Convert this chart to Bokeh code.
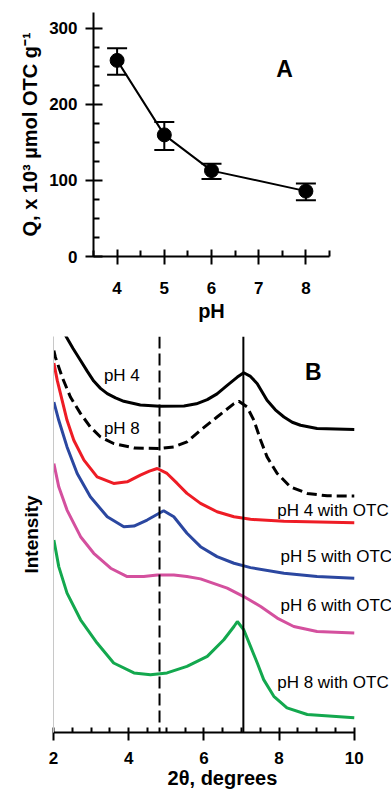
from bokeh.plotting import figure
from bokeh.models import (ColumnDataSource, Whisker, TeeHead, FixedTicker, Label,
                          Span, Range1d)
from bokeh.embed import file_html
from bokeh.resources import INLINE
from bokeh.core.properties import value

FONT = "Liberation Sans"

# ---------------- Panel A data ----------------
ph = [4, 5, 6, 8]
q = [258, 160, 113, 86]
q_upper = [274, 177, 122, 96]
q_lower = [239, 140, 102, 74]
ph_ticks = [4, 5, 6, 7, 8]
ph_minor = [3.5, 4.5, 5.5, 6.5, 7.5, 8.5]
q_ticks = [0, 100, 200, 300]
q_minor = [25, 50, 75, 125, 150, 175, 225, 250, 275]

# ---------------- Panel B data ----------------
tt_ticks = [2, 4, 6, 8, 10]
tt_minor = [2.5, 3, 3.5, 4.5, 5, 5.5, 6.5, 7, 7.5, 8.5, 9, 9.5]
ref_dashed = 4.82
ref_solid = 7.05

tt_ph4 = [2.32, 2.52, 2.72, 2.90, 3.07, 3.25, 3.43, 3.65, 3.87, 4.31, 4.83, 5.47, 5.80, 6.09, 6.35, 6.62, 6.89, 7.06, 7.24, 7.42, 7.68, 7.90, 8.13, 8.35, 8.57, 9.01, 10.0]
in_ph4 = [398, 385, 373, 362, 352.3, 345, 339.7, 335.5, 332, 328.3, 327, 327.3, 329.5, 333.7, 339.5, 348, 356.3, 360.7, 357, 349.7, 333, 323.5, 316.3, 311, 308, 304.7, 303.7]

tt_ph8 = [2.01, 2.05, 2.23, 2.45, 2.72, 2.98, 3.25, 3.60, 4.14, 4.83, 5.20, 5.55, 5.91, 6.35, 6.80, 6.93, 7.15, 7.33, 7.51, 7.68, 7.95, 8.30, 8.75, 9.28, 10.0]
in_ph8 = [383, 376.3, 356.3, 336.3, 319.7, 306.3, 296.3, 289.7, 285.3, 284.7, 286.3, 291.3, 303, 316.3, 329.7, 332, 326.3, 313, 293, 276.3, 259.7, 246.3, 239.7, 237.3, 237]

tt_ph4_otc = [2.01, 2.10, 2.23, 2.36, 2.54, 2.81, 3.16, 3.60, 3.96, 4.31, 4.55, 4.76, 5.02, 5.29, 5.55, 5.91, 6.35, 6.80, 7.24, 8.13, 10.0]
in_ph4_otc = [370.3, 353, 333, 313, 293, 273, 256.3, 249.7, 251.3, 258, 262, 264.7, 259.7, 249.7, 239.7, 229.7, 221.3, 216.3, 213.7, 211.7, 210.3]

tt_ph5_otc = [2.01, 2.14, 2.36, 2.63, 2.98, 3.43, 3.87, 4.14, 4.49, 4.93, 5.20, 5.55, 5.91, 6.35, 6.80, 7.24, 8.13, 9.01, 10.0]
in_ph5_otc = [331.3, 313, 286.3, 259.7, 236.3, 216.3, 206.3, 207, 213, 222.3, 216.3, 199.7, 186.3, 176.3, 169.7, 165.3, 159.7, 156.3, 154.7]

tt_ph6_otc = [2.01, 2.14, 2.36, 2.72, 3.07, 3.52, 3.96, 4.40, 4.76, 5.20, 5.55, 5.91, 6.62, 7.06, 7.51, 7.95, 8.39, 9.01, 10.0]
in_ph6_otc = [269.7, 246.3, 223, 196.3, 179.7, 164.7, 156.3, 156.3, 158, 158, 156.3, 154, 144.7, 136.3, 126.3, 114.7, 106.3, 101.3, 99.7]

tt_ph8_otc = [2.01, 2.14, 2.36, 2.72, 3.16, 3.60, 4.14, 4.58, 5.02, 5.55, 6.09, 6.53, 6.80, 6.89, 7.06, 7.24, 7.42, 7.59, 7.86, 8.21, 8.75, 10.0]
in_ph8_otc = [193, 166.3, 139.7, 113, 89.7, 69.7, 59.7, 58, 59.7, 66.3, 76.3, 93, 106.3, 111.3, 103, 86.3, 69.7, 53, 36.3, 24.7, 18, 14.7]

curve_labels = ["pH 4", "pH 8", "pH 4 with OTC", "pH 5 with OTC", "pH 6 with OTC", "pH 8 with OTC"]
curve_label_x = [3.34, 3.34, 7.95, 8.04, 8.04, 7.95]
curve_label_y = [358, 305, 223, 176, 127, 50]

RED = "#ee1c25"
BLUE = "#2b47a0"
MAGENTA = "#d4509e"
GREEN = "#13a84e"


def style_axis(ax, tick_size="17px"):
    ax.axis_line_color = "black"
    ax.axis_line_width = 2
    ax.major_tick_line_color = "black"
    ax.major_tick_line_width = 2
    ax.minor_tick_line_color = "black"
    ax.minor_tick_line_width = 2
    ax.major_label_text_font = FONT
    ax.major_label_text_font_style = "bold"
    ax.major_label_text_font_size = tick_size
    ax.major_label_text_color = "black"
    ax.axis_label_text_font = FONT
    ax.axis_label_text_font_style = "bold"
    ax.axis_label_text_font_size = "20px"
    ax.axis_label_text_color = "black"


# ---------------- Figure A ----------------
pA = figure(width=391, height=328, x_range=Range1d(3.5, 8.5), y_range=Range1d(0, 321),
            output_backend="svg", toolbar_location=None,
            min_border_left=93, min_border_right=62, min_border_top=12, min_border_bottom=72)
pA.outline_line_color = None
pA.grid.visible = False

srcA = ColumnDataSource(dict(ph=ph, q=q, up=q_upper, lo=q_lower))
pA.line("ph", "q", source=srcA, line_width=2, line_color="black")
pA.add_layout(Whisker(base="ph", upper="up", lower="lo", source=srcA, dimension="height",
                      line_width=2, line_color="black",
                      upper_head=TeeHead(size=20, line_width=2, line_color="black"),
                      lower_head=TeeHead(size=20, line_width=2, line_color="black")))
pA.scatter("ph", "q", source=srcA, size=14, fill_color="black", line_color="black")

xa = pA.xaxis[0]
style_axis(xa)
xa.ticker = FixedTicker(ticks=ph_ticks, minor_ticks=ph_minor)
xa.major_tick_in = 7
xa.major_tick_out = 8
xa.minor_tick_in = 6
xa.minor_tick_out = 0
xa.major_label_standoff = 17
xa.axis_label = "pH"
xa.axis_label_standoff = 3

ya = pA.yaxis[0]
style_axis(ya)
ya.ticker = FixedTicker(ticks=q_ticks, minor_ticks=q_minor)
ya.major_tick_in = 9
ya.major_tick_out = 8
ya.minor_tick_in = 6
ya.minor_tick_out = 0
ya.major_label_standoff = 8
ya.axis_label = "Q, x 10³ µmol OTC g⁻¹"
ya.axis_label_text_font_size = "20px"
ya.axis_label_standoff = 5

pA.add_layout(Label(x=7.55, y=247, text="A", text_font=FONT, text_font_style="bold",
                    text_color="black",
                    text_font_size="23px", text_align="center", text_baseline="middle"))

# ---------------- Figure B ----------------
pB = figure(width=391, height=463, x_range=Range1d(2, 10.99), y_range=Range1d(0, 397),
            output_backend="svg", toolbar_location=None,
            min_border_left=53, min_border_right=0, min_border_top=8, min_border_bottom=58)
pB.outline_line_color = None
pB.grid.visible = False

pB.line(tt_ph4, in_ph4, line_width=3, line_color="black")
pB.line(tt_ph8, in_ph8, line_width=3, line_color="black", line_dash="10 5")
pB.line(tt_ph4_otc, in_ph4_otc, line_width=3, line_color=RED)
pB.line(tt_ph5_otc, in_ph5_otc, line_width=3, line_color=BLUE)
pB.line(tt_ph6_otc, in_ph6_otc, line_width=3, line_color=MAGENTA)
pB.line(tt_ph8_otc, in_ph8_otc, line_width=3, line_color=GREEN)

pB.add_layout(Span(location=ref_dashed, dimension="height", line_color="black",
                   line_width=2, line_dash="12 5"))
pB.add_layout(Span(location=ref_solid, dimension="height", line_color="black", line_width=2))

srcL = ColumnDataSource(dict(x=curve_label_x, y=curve_label_y, t=curve_labels))
pB.text("x", "y", text="t", source=srcL, text_font=value(FONT), text_font_size="17px",
        text_align="left", text_baseline="middle", text_color="black")

xb = pB.xaxis[0]
style_axis(xb)
xb.bounds = (2, 10)
xb.ticker = FixedTicker(ticks=tt_ticks, minor_ticks=tt_minor)
xb.major_tick_in = 5
xb.major_tick_out = 8
xb.minor_tick_in = 5
xb.minor_tick_out = 0
xb.major_label_standoff = 11
xb.axis_label = "2θ, degrees"
xb.axis_label_standoff = 0

yb = pB.yaxis[0]
yb.ticker = FixedTicker(ticks=[])
yb.axis_line_color = "#c8c8c8"
yb.axis_line_width = 1
yb.major_tick_in = 0
yb.major_tick_out = 0
yb.minor_tick_in = 0
yb.minor_tick_out = 0
yb.major_label_standoff = 0
yb.axis_label = "Intensity"
yb.axis_label_text_font = FONT
yb.axis_label_text_font_style = "bold"
yb.axis_label_text_font_size = "19px"
yb.axis_label_text_color = "black"
yb.axis_label_standoff = 12

pB.add_layout(Label(x=8.91, y=361, text="B", text_font=FONT, text_font_style="bold",
                    text_color="black",
                    text_font_size="23px", text_align="center", text_baseline="middle"))

open("out.html", "w").write(file_html([pA, pB], INLINE))
